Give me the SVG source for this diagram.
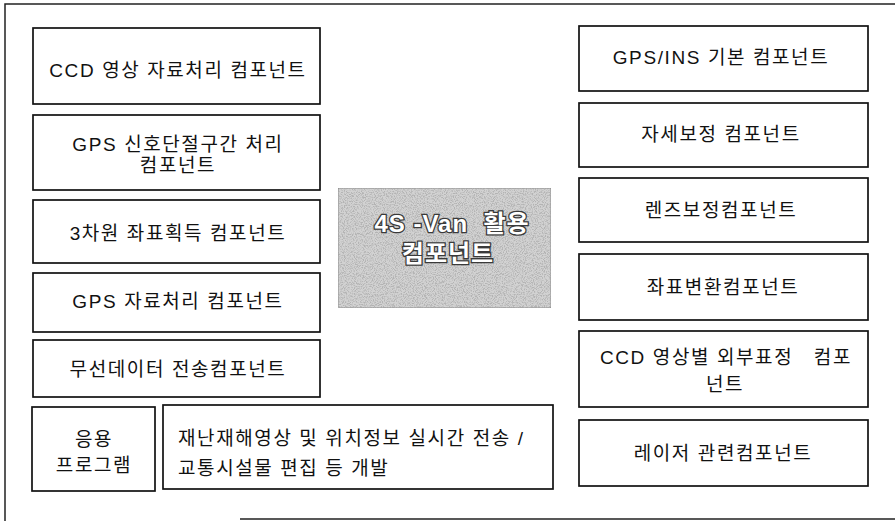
<svg xmlns="http://www.w3.org/2000/svg" width="895" height="521" viewBox="0 0 895 521">
<style>
.box{fill:#fff;stroke:#111;stroke-width:1.7}
.t{font-family:"Liberation Sans","Noto Sans CJK KR",sans-serif;font-size:19px;letter-spacing:1.6px;fill:#111;text-anchor:middle}
.tl{text-anchor:start}
.frame{fill:none;stroke:#222;stroke-width:1.5}
.hl{font-family:"Liberation Sans","Noto Sans CJK KR",sans-serif;font-size:24px;font-weight:bold;letter-spacing:1px;fill:#fff;stroke:#3a3a3a;stroke-width:2.6;paint-order:stroke;text-anchor:middle}
</style>
<defs>
<filter id="noise" x="0" y="0" width="100%" height="100%">
<feTurbulence type="fractalNoise" baseFrequency="0.9" numOctaves="2" seed="7" result="n"/>
<feColorMatrix in="n" type="matrix" values="0 0 0 0 0.45  0 0 0 0 0.45  0 0 0 0 0.45  4 0 0 0 -1.75" result="g"/>
<feComposite in="g" in2="SourceGraphic" operator="in" result="gi"/>
<feMerge><feMergeNode in="SourceGraphic"/><feMergeNode in="gi"/></feMerge>
</filter>
</defs>
<rect width="895" height="521" fill="#fff"/>
<path class="frame" d="M5,521 L5,4 L895,4 M240,519 L895,519"/>

<g id="n-ccd"><rect class="box" x="33" y="28" width="287" height="76"/><text class="t" x="178" y="77">CCD 영상 자료처리 컴포넌트</text></g>
<g id="n-gps-signal"><rect class="box" x="33" y="115" width="287" height="75"/><text class="t" x="178" y="151">GPS 신호단절구간 처리</text><text class="t" x="178" y="172">컴포넌트</text></g>
<g id="n-3d"><rect class="box" x="33" y="200" width="287" height="63"/><text class="t" x="178" y="240">3차원 좌표획득 컴포넌트</text></g>
<g id="n-gps-data"><rect class="box" x="33" y="273" width="287" height="59"/><text class="t" x="178" y="308">GPS 자료처리 컴포넌트</text></g>
<g id="n-wireless"><rect class="box" x="33" y="340" width="287" height="57"/><text class="t" x="178" y="376">무선데이터 전송컴포넌트</text></g>
<g id="n-app"><rect class="box" x="32" y="407" width="123" height="84"/><text class="t" x="94" y="446">응용</text><text class="t" x="94" y="472">프로그램</text></g>
<g id="n-dev"><rect class="box" x="163" y="405" width="390" height="84"/><text class="t tl" x="178" y="445">재난재해영상 및 위치정보 실시간 전송 /</text><text class="t tl" x="178" y="475">교통시설물 편집 등 개발</text></g>

<g id="n-center"><rect x="338" y="188" width="213" height="120" fill="#d2d2d2" stroke="#8a8a8a" stroke-width="1.2" filter="url(#noise)"/><text class="hl" x="452" y="232" xml:space="preserve">4S -Van  활용</text><text class="hl" x="448" y="262">컴포넌트</text></g>

<g id="n-gpsins"><rect class="box" x="579" y="26" width="289" height="65"/><text class="t" x="721" y="64">GPS/INS 기본 컴포넌트</text></g>
<g id="n-attitude"><rect class="box" x="579" y="103" width="289" height="64"/><text class="t" x="721" y="141">자세보정 컴포넌트</text></g>
<g id="n-lens"><rect class="box" x="579" y="178" width="289" height="64"/><text class="t" x="721" y="217">렌즈보정컴포넌트</text></g>
<g id="n-coord"><rect class="box" x="579" y="254" width="289" height="66"/><text class="t" x="723" y="294">좌표변환컴포넌트</text></g>
<g id="n-ext"><rect class="box" x="579" y="331" width="289" height="76"/><text class="t" x="726" y="364" xml:space="preserve">CCD 영상별 외부표정   컴포</text><text class="t" x="725" y="391">넌트</text></g>
<g id="n-laser"><rect class="box" x="579" y="420" width="289" height="66"/><text class="t" x="723" y="460">레이저 관련컴포넌트</text></g>
<g id="connectors"></g>
</svg>
